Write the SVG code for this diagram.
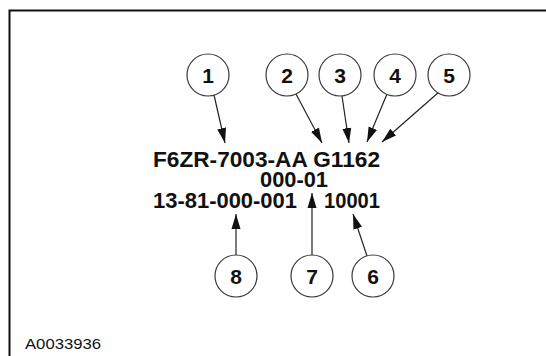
<svg xmlns="http://www.w3.org/2000/svg" width="546" height="356" viewBox="0 0 546 356">
<defs>
<style>
.c{fill:#fff;stroke:#3a3a3a;stroke-width:1.2}
.n{font-family:"Liberation Sans",Arial,sans-serif;font-weight:bold;font-size:21px;fill:#111;text-anchor:middle}
.t{font-family:"Liberation Sans",Arial,sans-serif;font-weight:bold;font-size:22px;fill:#111}
.l{stroke:#222;stroke-width:1.2;fill:none;marker-end:url(#ah)}
</style>
<marker id="ah" markerUnits="userSpaceOnUse" markerWidth="16" markerHeight="11" refX="15" refY="5" orient="auto" viewBox="0 0 16 11">
<path d="M0,0.5 L15,5 L0,9.5 z" fill="#111"/>
</marker>
</defs>
<rect width="546" height="356" fill="#fff"/>
<path d="M9.5 356 V10.5 H546" fill="none" stroke="#111" stroke-width="2"/>
<g id="connectors">
<line class="l" x1="214" y1="95" x2="225" y2="143"/>
<line class="l" x1="296" y1="94" x2="322" y2="143"/>
<line class="l" x1="342" y1="96" x2="349" y2="143"/>
<line class="l" x1="387" y1="94" x2="367" y2="142"/>
<line class="l" x1="439" y1="92" x2="382" y2="142"/>
<line class="l" x1="236" y1="255" x2="236" y2="214"/>
<line class="l" x1="312" y1="255" x2="312" y2="193"/>
<line class="l" x1="367" y1="256" x2="353" y2="214"/>
</g>
<g id="n1"><circle class="c" cx="208" cy="75" r="21"/><text class="n" x="208" y="82.5">1</text></g>
<g id="n2"><circle class="c" cx="287" cy="75" r="21"/><text class="n" x="287" y="82.5">2</text></g>
<g id="n3"><circle class="c" cx="340" cy="75" r="21"/><text class="n" x="340" y="82.5">3</text></g>
<g id="n4"><circle class="c" cx="395" cy="75" r="21"/><text class="n" x="395" y="82.5">4</text></g>
<g id="n5"><circle class="c" cx="449" cy="75" r="21"/><text class="n" x="449" y="82.5">5</text></g>
<g id="n8"><circle class="c" cx="236" cy="276" r="21"/><text class="n" x="236" y="283.5">8</text></g>
<g id="n7"><circle class="c" cx="312" cy="276" r="21"/><text class="n" x="312" y="283.5">7</text></g>
<g id="n6"><circle class="c" cx="373" cy="276" r="21"/><text class="n" x="373" y="283.5">6</text></g>
<g id="code">
<text class="t" x="153" y="167" textLength="227" lengthAdjust="spacingAndGlyphs">F6ZR-7003-AA G1162</text>
<text class="t" x="260" y="187" textLength="68" lengthAdjust="spacingAndGlyphs">000-01</text>
<text class="t" x="153" y="208" textLength="144" lengthAdjust="spacingAndGlyphs">13-81-000-001</text>
<text class="t" x="324" y="208" textLength="56" lengthAdjust="spacingAndGlyphs">10001</text>
</g>
<text x="25" y="349" font-family="'Liberation Sans',Arial,sans-serif" font-size="15" fill="#111" textLength="76" lengthAdjust="spacingAndGlyphs">A0033936</text>
</svg>
